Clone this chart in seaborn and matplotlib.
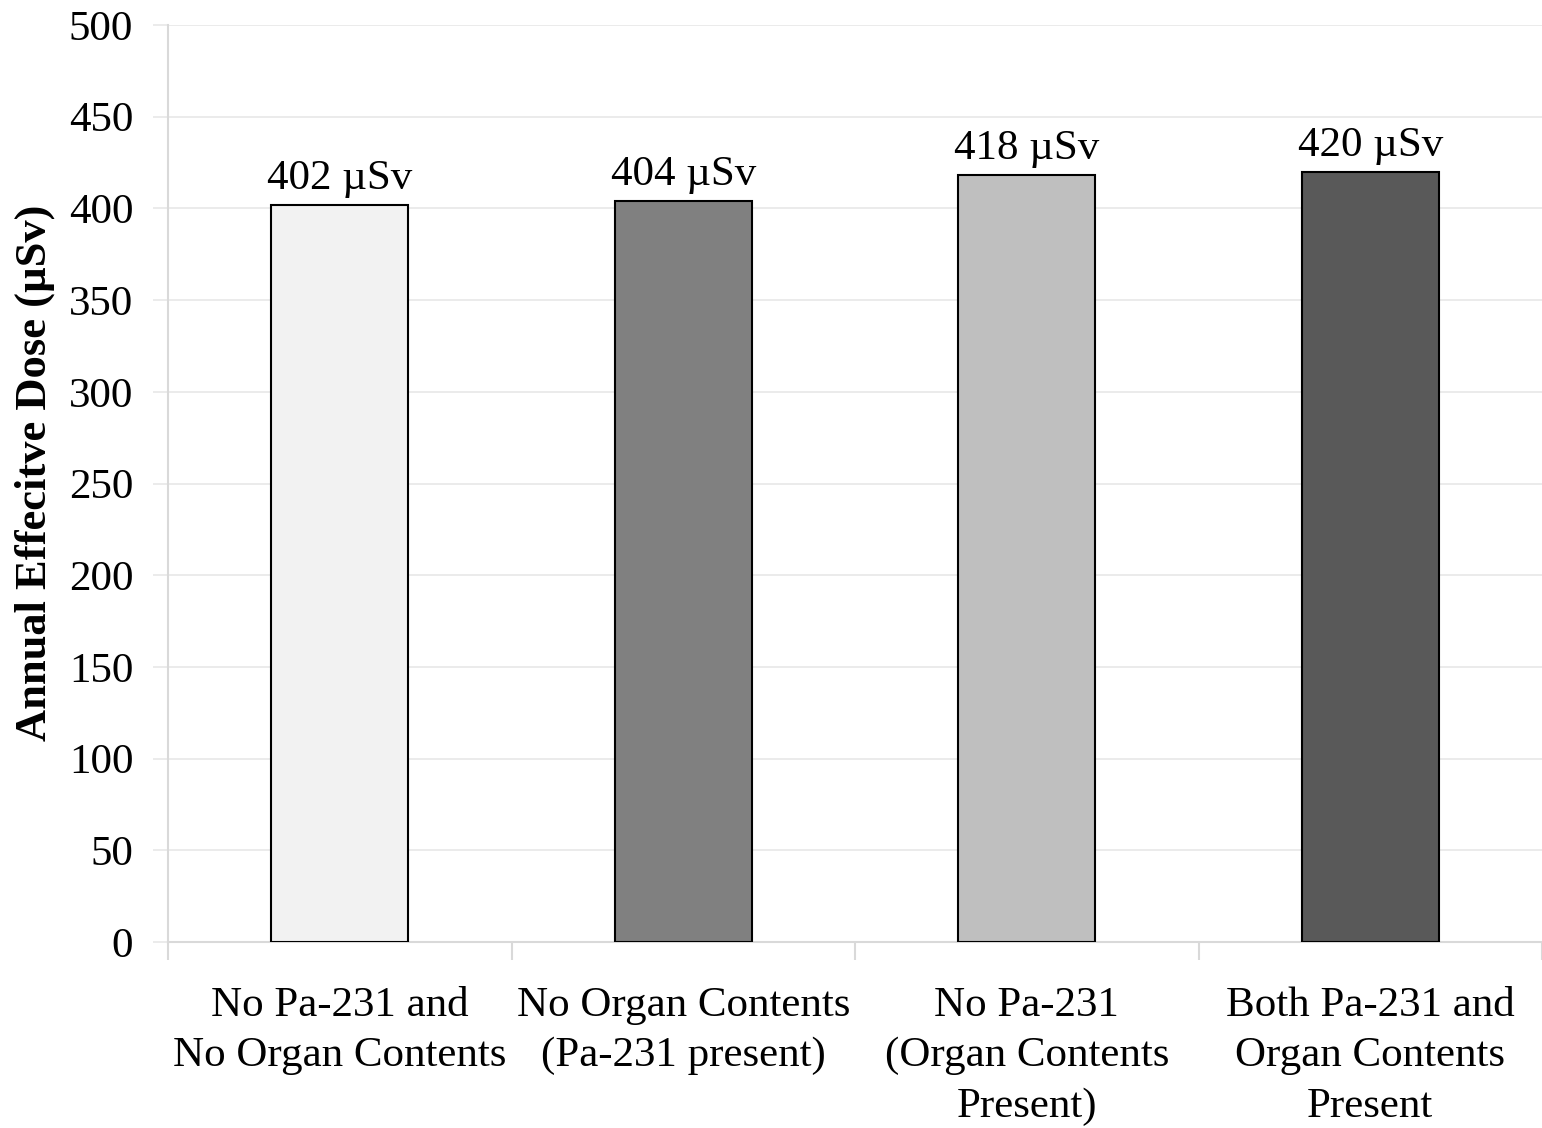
import matplotlib
matplotlib.use("Agg")
import matplotlib.pyplot as plt
import seaborn as sns
from matplotlib.ticker import MultipleLocator

categories = ["No Pa-231 and\nNo Organ Contents",
              "No Organ Contents\n(Pa-231 present)",
              "No Pa-231\n(Organ Contents\nPresent)",
              "Both Pa-231 and\nOrgan Contents\nPresent"]
values = [402, 404, 418, 420]
value_labels = ["402 \u00b5Sv", "404 \u00b5Sv", "418 \u00b5Sv", "420 \u00b5Sv"]
colors = ["#f2f2f2", "#808080", "#bfbfbf", "#595959"]

sns.set_style("white", {"xtick.bottom": True, "ytick.left": True,
                        "text.color": "black", "axes.labelcolor": "black"})
plt.rcParams['font.family'] = ['Liberation Serif', 'DejaVu Serif']

fig = plt.figure(figsize=(15.42, 11.28), dpi=100)
ax = fig.add_axes([168 / 1542, 1 - 942 / 1128, 1 - 168 / 1542, (942 - 25) / 1128])

sns.barplot(x=categories, y=values, hue=categories, palette=colors, width=0.4,
            edgecolor="black", linewidth=1.5, legend=False, ax=ax, zorder=3)

for c, lab in zip(ax.containers, value_labels):
    ax.bar_label(c, labels=[lab], padding=5, fontsize=31, color="black")

ax.set_ylim(0, 500)
ax.set_xlim(-0.5, 3.5)
ax.yaxis.set_major_locator(MultipleLocator(50))
ax.grid(axis="y", color="#e8e8e8", linewidth=1.2, zorder=0)
ax.set_axisbelow(True)

for s in ["top", "right"]:
    ax.spines[s].set_visible(False)
for s in ["left", "bottom"]:
    ax.spines[s].set_color("#d9d9d9")
    ax.spines[s].set_linewidth(1.5)

ax.tick_params(axis="y", left=True, length=11, width=1.2, color="#e8e8e8",
               pad=14, labelsize=31, labelcolor="black")
ax.tick_params(axis="x", which="major", bottom=True, length=0, pad=32,
               labelsize=31, labelcolor="black")
ax.set_xticks([-0.5, 0.5, 1.5, 2.5, 3.5], minor=True)
ax.tick_params(axis="x", which="minor", bottom=True, length=13, width=1.5, color="#d9d9d9")
for t in ax.get_xticklabels():
    t.set_linespacing(1.4)

# label text kept as in the source figure (including its spelling)
ax.set_ylabel("Annual Effecitve Dose (\u00b5Sv)", fontsize=32, fontweight="bold",
              labelpad=12, color="black")
ax.yaxis.set_label_coords(-0.082, 0.512)
ax.set_xlabel("")

fig.savefig("out.png", dpi=100)
